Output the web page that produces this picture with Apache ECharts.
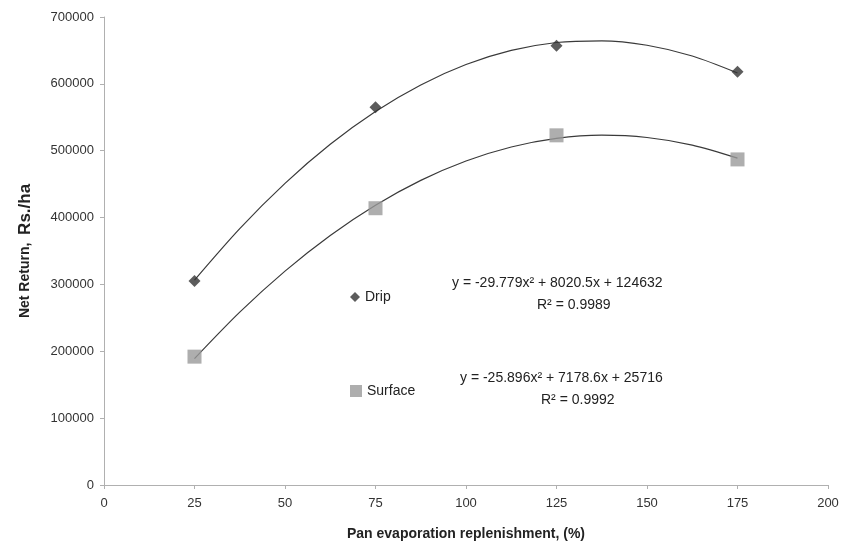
<!DOCTYPE html>
<html><head><meta charset="utf-8">
<script src="https://cdn.jsdelivr.net/npm/echarts@6/dist/echarts.min.js"></script>
<style>html,body{margin:0;padding:0;background:#fff}#c{width:850px;height:549px}</style>
</head><body><div id="c"></div>
<script>
const xValues = [25, 75, 125, 175];
const dripValues = [305000, 565000, 657000, 618000];
const surfaceValues = [192000, 414000, 523000, 487000];
const trendX = [25, 37.5, 50, 62.5, 75, 87.5, 100, 112.5, 125, 137.5, 150, 162.5, 175];
const dripTrend = [306500, 383500, 451200, 509600, 558700, 598400, 628900, 650000, 661900, 664400, 657700, 641600, 616200];
const surfaceTrend = [189000, 258500, 319900, 373200, 418400, 455600, 484600, 505600, 518400, 523200, 519800, 508400, 488900];
const dripEq = ['y = -29.779x² + 8020.5x + 124632', 'R² = 0.9989'];
const surfaceEq = ['y = -25.896x² + 7178.6x + 25716', 'R² = 0.9992'];

const font = '"Liberation Sans",sans-serif';
const chart = echarts.init(document.getElementById('c'));
const pairs = (xs, ys) => xs.map((x, i) => [x, ys[i]]);
chart.setOption({
  animation: false,
  grid: {left: 104, right: 22, top: 17, bottom: 64},
  xAxis: {
    type: 'value', min: 0, max: 200, interval: 25,
    axisLine: {lineStyle: {color: '#b0b0b0'}},
    axisTick: {show: true, lineStyle: {color: '#b0b0b0'}, length: 4},
    splitLine: {show: false},
    axisLabel: {color: '#333', fontFamily: font, fontSize: 13, margin: 12},
    name: 'Pan evaporation replenishment, (%)', nameLocation: 'middle', nameGap: 42,
    nameTextStyle: {color: '#222', fontFamily: font, fontSize: 14, fontWeight: 'bold'}
  },
  yAxis: {
    type: 'value', min: 0, max: 700000, interval: 100000,
    axisLine: {show: true, lineStyle: {color: '#b0b0b0'}},
    axisTick: {show: true, lineStyle: {color: '#b0b0b0'}, length: 4},
    splitLine: {show: false},
    axisLabel: {color: '#333', fontFamily: font, fontSize: 13, margin: 10, formatter: v => String(v)},
    name: '{a|Net Return,  }{b|Rs./ha}', nameLocation: 'middle', nameGap: 70, nameRotate: 90,
    nameTextStyle: {rich: {
      a: {color: '#222', fontFamily: font, fontSize: 14, fontWeight: 'bold'},
      b: {color: '#222', fontFamily: font, fontSize: 17, fontWeight: 'bold'}
    }}
  },
  legend: [
    {data: ['Drip'], left: 345, top: 285, itemWidth: 10, itemHeight: 10, itemGap: 4,
     textStyle: {color: '#222', fontFamily: font, fontSize: 14}},
    {data: ['Surface'], left: 345, top: 379, itemWidth: 12, itemHeight: 12, itemGap: 4,
     textStyle: {color: '#222', fontFamily: font, fontSize: 14}}
  ],
  series: [
    {name: 'Drip trend', type: 'line', data: pairs(trendX, dripTrend), smooth: 0.3, symbol: 'none',
     lineStyle: {color: '#3a3a3a', width: 1.2}, z: 1},
    {name: 'Surface trend', type: 'line', data: pairs(trendX, surfaceTrend), smooth: 0.3, symbol: 'none',
     lineStyle: {color: '#3a3a3a', width: 1.2}, z: 1},
    {name: 'Drip', type: 'scatter', data: pairs(xValues, dripValues), symbol: 'diamond', symbolSize: 12,
     itemStyle: {color: '#333333'}, z: 3},
    {name: 'Surface', type: 'scatter', data: pairs(xValues, surfaceValues), symbol: 'rect', symbolSize: 14,
     itemStyle: {color: '#9a9a9a'}, z: 3}
  ],
  graphic: [
    {type: 'text', left: 452, top: 276, style: {text: dripEq[0], fill: '#222', font: '14px ' + font}},
    {type: 'text', left: 537, top: 298, style: {text: dripEq[1], fill: '#222', font: '14px ' + font}},
    {type: 'text', left: 460, top: 371, style: {text: surfaceEq[0], fill: '#222', font: '14px ' + font}},
    {type: 'text', left: 541, top: 393, style: {text: surfaceEq[1], fill: '#222', font: '14px ' + font}}
  ]
});
</script></body></html>
